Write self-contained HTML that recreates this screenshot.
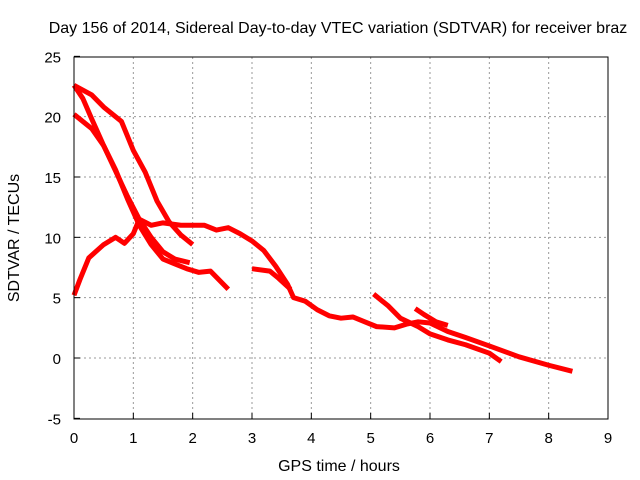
<!DOCTYPE html>
<html><head><meta charset="utf-8"><style>
body{margin:0;background:#fff}
svg{display:block;font-family:"Liberation Sans",sans-serif}
</style></head><body>
<svg id="c" width="640" height="480">
<text x="338" y="33" font-size="16" text-anchor="middle">Day 156 of 2014, Sidereal Day-to-day VTEC variation (SDTVAR) for receiver braz</text>
<text x="339" y="471" font-size="16" text-anchor="middle">GPS time / hours</text>
<text x="19" y="238" font-size="16" text-anchor="middle" transform="rotate(-90 19 238)">SDTVAR / TECUs</text>
<g id="grid"></g><g id="series"></g>
<rect x="74" y="57" width="534" height="362" fill="none" stroke="#000" stroke-width="1"/>
</svg>
<script>
const xTicks=[0,1,2,3,4,5,6,7,8,9];
const yTicks=[-5,0,5,10,15,20,25];
const seriesA=[[0,22.6],[0.3,21.8],[0.5,20.8],[0.8,19.6],[1.0,17.2],[1.2,15.4],[1.4,13],[1.6,11.3],[1.8,10.2],[2.0,9.4]];
const seriesB=[[0,22.6],[0.15,21.5],[0.3,19.8],[0.5,17.6],[0.7,15.5],[0.9,13.4],[1.1,11.5],[1.3,10],[1.5,8.8],[1.7,8.2],[1.95,7.9]];
const seriesC=[[0,20.2],[0.3,19],[0.5,17.6],[0.7,15.6],[0.9,13.2],[1.1,11],[1.3,9.4],[1.5,8.2],[1.7,7.8],[1.9,7.4],[2.1,7.1],[2.3,7.2],[2.6,5.7]];
const seriesD=[[0,5.2],[0.1,6.5],[0.25,8.3],[0.5,9.4],[0.7,10],[0.85,9.5],[1.0,10.3],[1.1,11.5],[1.3,11],[1.5,11.2],[1.8,11],[2.2,11],[2.4,10.6],[2.6,10.8],[2.8,10.3],[3.0,9.7],[3.2,8.9],[3.4,7.6],[3.6,6.1],[3.7,5.0],[3.9,4.7],[4.1,4.0],[4.3,3.5],[4.5,3.3],[4.7,3.4],[4.9,3.0],[5.1,2.6],[5.4,2.5],[5.6,2.8],[5.8,3.0],[6.0,2.9],[6.3,2.2],[6.6,1.7],[7.0,1.0],[7.5,0.1],[8.0,-0.6],[8.4,-1.1]];
const seriesE=[[3.0,7.4],[3.3,7.2],[3.45,6.6],[3.65,5.7]];
const seriesF=[[5.05,5.3],[5.3,4.3],[5.5,3.3],[5.8,2.6],[6.0,2.0],[6.3,1.5],[6.6,1.1],[7.0,0.4],[7.2,-0.3]];
const seriesG=[[5.75,4.1],[5.9,3.6],[6.1,3.0],[6.3,2.7]];
const X=v=>74+v*534/9, Y=v=>358-v*362/30;
const NS='http://www.w3.org/2000/svg';
const g=document.getElementById('grid'), s=document.getElementById('series');
function el(t,a,p){const e=document.createElementNS(NS,t);for(const k in a)e.setAttribute(k,a[k]);p.appendChild(e);return e;}
xTicks.forEach(t=>{
  if(t>0&&t<9){const l=el('line',{x1:X(t),x2:X(t),y1:57,y2:419,stroke:'#999','stroke-dasharray':'2,3'},g);
  
  }
  const k=el('line',{x1:X(t),x2:X(t),y1:419,y2:413,stroke:'#000'},g);
  
  
  const tx=el('text',{x:X(t),y:443,'font-size':15,'text-anchor':'middle'},g);tx.textContent=t;
  
  
});
yTicks.forEach(t=>{
  if(t>-5&&t<25){const l=el('line',{x1:74,x2:608,y1:Y(t),y2:Y(t),stroke:'#999','stroke-dasharray':'2,3'},g);
  
  }
  const k=el('line',{x1:74,x2:80,y1:Y(t),y2:Y(t),stroke:'#000'},g);
  
  
  const tx=el('text',{x:61,y:Y(t)+6,'font-size':15,'text-anchor':'end'},g);tx.textContent=t;
  
  
});
[seriesA,seriesB,seriesC,seriesD,seriesE,seriesF,seriesG].forEach(d=>{
  const p=el('polyline',{points:d.map(q=>X(q[0])+','+Y(q[1])).join(' '),fill:'none',stroke:'#f00','stroke-width':5,'stroke-linejoin':'round'},s);
  
  
});
</script>
</body></html>
